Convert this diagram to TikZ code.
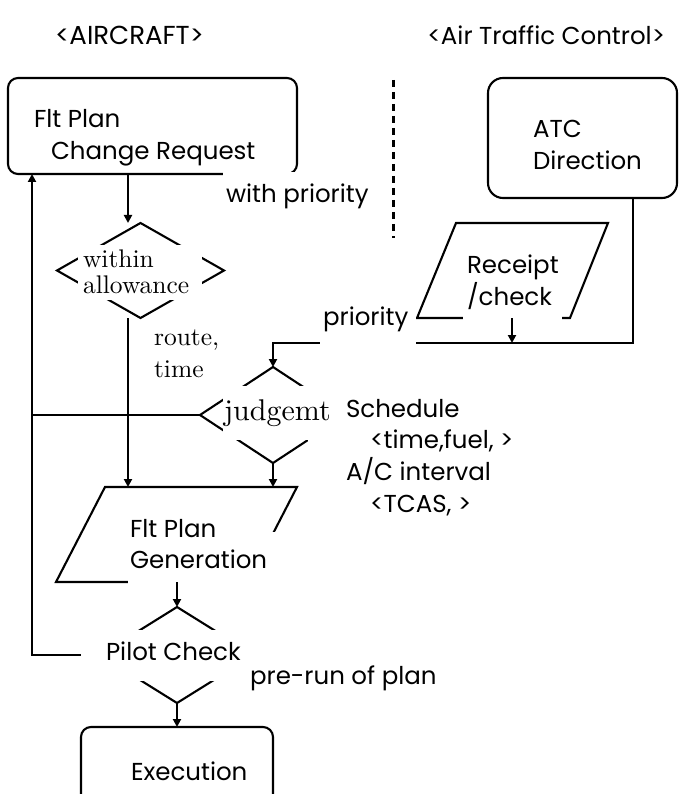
\documentclass[tikz,border=0pt]{standalone}
\usepackage{fontspec}
\newfontfamily\gothic{Poppins}
\newfontfamily\cmten{lmroman10-regular.otf}
\usetikzlibrary{arrows.meta,shapes.geometric}
\begin{document}
\begin{tikzpicture}[x=1pt,y=-1pt,line width=2.1pt,
 arr/.style={-{Triangle[length=8pt,width=8pt]}},
 maskbox/.style={fill=white,draw=none},
 rbox/.style={draw,inner sep=0pt,outer sep=0pt},
 dia/.style={draw,diamond,inner sep=0pt,outer sep=0pt},
 gt/.style={font=\gothic\fontsize{24.5}{29}\selectfont,anchor=base west,inner sep=0pt},
 rt/.style={font=\cmten\fontsize{25.5}{30}\selectfont,anchor=base west,inner sep=0pt}]
\path[use as bounding box,clip] (0,0) rectangle (679,794);

% shapes
\node[rbox,rounded corners=10pt,minimum width=289pt,minimum height=96pt] (req) at (152.5,126) {};
\node[rbox,rounded corners=15pt,minimum width=189pt,minimum height=120pt] (atc) at (582.5,138) {};
\node[rbox,rounded corners=10pt,minimum width=192pt,minimum height=110pt] (exe) at (177,782) {};
\node[dia,minimum width=167pt,minimum height=95pt] (allow) at (140.5,270.5) {};
\node[dia,minimum width=146pt,minimum height=96pt] (judge) at (273,415) {};
\node[dia,minimum width=154pt,minimum height=96pt] (pilot) at (177,655) {};
\draw (456,223) -- (608,223) -- (570,318) -- (417,318) -- cycle;
\draw (105,487) -- (297,487) -- (248,582) -- (56,582) -- cycle;
\draw[line width=3pt,dash pattern=on 7pt off 5pt] (393,80) -- (393,238);

% named points
\coordinate (c1) at (128,223);
\coordinate (c3) at (128,487);
\coordinate (c4) at (633,343);
\coordinate (c5) at (273,343);
\coordinate (rcb) at (512,318);
\coordinate (gtr) at (273,487);
\coordinate (gb) at (177,582);
\coordinate (fb) at (32,655);

% connectors
\draw[arr] (req.south -| c1) -- (c1);
\draw[arr] (allow.south -| c3) -- (c3);
\draw[arr] (atc.south -| c4) -- (c4) -- (c5) -- (judge.north);
\draw (judge.west) -- (judge.west -| fb);
\draw[arr] (pilot.west) -- (fb) -- (fb |- req.south);
\draw[arr] (judge.south) -- (gtr);
\draw[arr] (pilot.south) -- (exe.north);

% white label backgrounds
\fill[maskbox] (223,172) rectangle (360,215);
\fill[maskbox] (78,245) rectangle (202,300);
\fill[maskbox] (223,386) rectangle (308,440);
\fill[maskbox] (308,385) rectangle (500,525);
\fill[maskbox] (320,300) rectangle (416,346);
\fill[maskbox] (463,285) rectangle (562,320);
\fill[maskbox] (128,532) rectangle (282,584);
\fill[maskbox] (81,630) rectangle (250,681);
\fill[maskbox] (245,640) rectangle (425,700);

\draw[arr] (rcb) -- (rcb |- c4);
\draw[arr] (gb) -- (pilot.north);

% texts
\node[gt,font=\gothic\fontsize{26}{30}\selectfont] (t1) at (54,45) {<AIRCRAFT>};
\node[gt,anchor=base east] (t2) at (666,45) {<Air Traffic Control>};
\node[gt] (t3) at (33,128) {Flt Plan};
\node[gt] (t4) at (50,160) {Change Request};
\node[gt] (t5) at (225,203) {with priority};
\node[gt] (t6) at (532,138) {ATC};
\node[gt] (t7) at (532,170) {Direction};
\node[gt] (t8) at (466,273) {Receipt};
\node[gt] (t9) at (466,305) {/check};
\node[rt] (t10) at (82,267) {within};
\node[rt] (t11) at (82,293) {allowance};
\node[rt] (t12) at (153,345) {route,};
\node[rt] (t13) at (153,377) {time};
\node[rt,font=\cmten\fontsize{30}{36}\selectfont] (t14) at (223,420) {judgemt};
\node[gt] (t15) at (322,325) {priority};
\node[gt] (t16) at (345,417) {Schedule};
\node[gt] (t17) at (369,448) {<time,fuel, >};
\node[gt] (t18) at (345,480) {A/C interval};
\node[gt] (t19) at (369,512) {<TCAS, >};
\node[gt] (t20) at (129,537) {Flt Plan};
\node[gt] (t21) at (129,568) {Generation};
\node[gt] (t22) at (105,660) {Pilot Check};
\node[gt] (t23) at (249,684) {pre-run of plan};
\node[gt] (t24) at (130,780) {Execution};
\end{tikzpicture}
\end{document}
